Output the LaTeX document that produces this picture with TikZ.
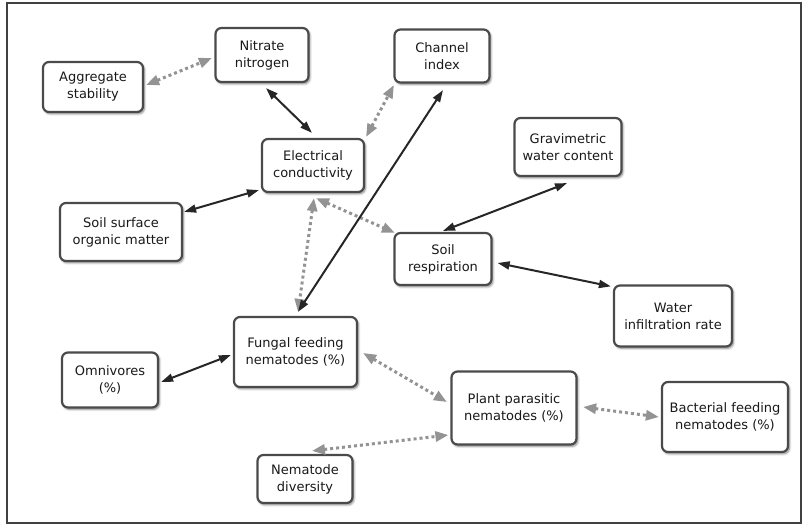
\documentclass[tikz,border=0pt]{standalone}
\usepackage{fontspec}
\setmainfont{DejaVu Sans}
\usetikzlibrary{arrows.meta,calc,shadows.blur}
\definecolor{boxline}{HTML}{4A4A4A}
\definecolor{solidline}{HTML}{262626}
\definecolor{dotline}{HTML}{939393}
\begin{document}
\begin{tikzpicture}[x=1pt,y=-1pt,
  box/.style={draw=boxline, line width=2.2pt, rounded corners=6pt, fill=white,
    align=center, inner sep=0pt, font=\fontsize{13}{17}\selectfont, text=black!90,
    blur shadow={shadow blur steps=6, shadow xshift=1.4pt, shadow yshift=-1.8pt, shadow opacity=50}},
  solidlink/.style={draw=solidline, line width=2pt,
    {Triangle[length=12pt,width=8pt]}-{Triangle[length=12pt,width=8pt]}},
  dotlink/.style={draw=dotline, line width=3pt, dash pattern=on 3pt off 3pt,
    {Triangle[length=13pt,width=10pt]}-{Triangle[length=13pt,width=10pt]}}
]
\useasboundingbox (0,0) rectangle (806,525);
\draw[draw=black!75, line width=1.3pt] (7,3) rectangle (801,523);

\node[box, minimum width=100pt, minimum height=50pt] (agg) at (93,87) {Aggregate\\stability};
\node[box, minimum width=93pt, minimum height=54pt] (nit) at (262,55) {Nitrate\\nitrogen};
\node[box, minimum width=95pt, minimum height=53pt] (chan) at (442,56) {Channel\\index};
\node[box, minimum width=102pt, minimum height=53pt] (elec) at (313,165.5) {Electrical\\conductivity};
\node[box, minimum width=107pt, minimum height=58pt] (grav) at (568,147) {Gravimetric\\water content};
\node[box, minimum width=122pt, minimum height=58pt] (soil) at (121,232) {Soil surface\\organic matter};
\node[box, minimum width=97pt, minimum height=52pt] (resp) at (443,259) {Soil\\respiration};
\node[box, minimum width=118pt, minimum height=61pt] (water) at (673,316) {Water\\infiltration rate};
\node[box, minimum width=123pt, minimum height=70pt] (fung) at (295.5,352) {Fungal feeding\\nematodes (\%)};
\node[box, minimum width=96pt, minimum height=55pt] (omni) at (110,380) {Omnivores\\(\%)};
\node[box, minimum width=125pt, minimum height=73pt] (plant) at (514,408) {Plant parasitic\\nematodes (\%)};
\node[box, minimum width=126pt, minimum height=70pt] (bact) at (725,417) {Bacterial feeding\\nematodes (\%)};
\node[box, minimum width=95pt, minimum height=48pt] (nema) at (305,479) {Nematode\\diversity};

% dotted grey links
\draw[dotlink] ($(agg.east)+(2,-2)$) -- ($(nit.west)+(-2.5,3)$);
\draw[dotlink] ($(elec.north east)+(1,-1)$) -- ($(chan.south west)+(0.5,1.5)$);
\draw[dotlink] ($(elec.south)+(3,5)$) -- ($(resp.north west)+(1.5,1)$);
\draw[dotlink] ($(elec.south)+(1,5)$) -- ($(fung.north)+(2.5,-4)$);
\draw[dotlink] ($(fung.east)+(5,1)$) -- ($(plant.west)+(-3.5,-6)$);
\draw[dotlink] ($(plant.east)+(5.5,-1)$) -- ($(bact.west)+(-2,0)$);
\draw[dotlink] ($(nema.north)+(7,-3)$) -- ($(plant.west)+(-2,27)$);

% solid dark links
\draw[solidlink] ($(nit.south)+(4,5)$) -- ($(elec.north)+(-1,-5)$);
\draw[solidlink] ($(chan.south)+(1,6.5)$) -- ($(fung.north)+(2.5,-4)$);
\draw[solidlink] ($(elec.south west)+(-2,-3)$) -- ($(soil.north east)+(1,10)$);
\draw[solidlink] ($(grav.south)+(-1,6)$) -- ($(resp.north)+(0,-1)$);
\draw[solidlink] ($(resp.east)+(5,4)$) -- ($(water.north west)+(-2,2)$);
\draw[solidlink] ($(omni.east)+(2,2)$) -- ($(fung.west)+(-2,3)$);
\end{tikzpicture}
\end{document}
